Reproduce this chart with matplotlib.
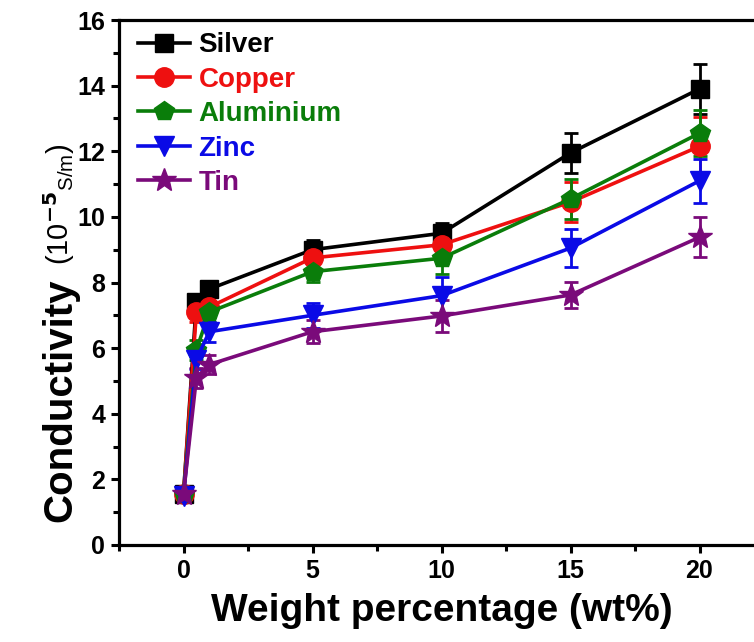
import numpy as np
import matplotlib
matplotlib.use('Agg')
import matplotlib.pyplot as plt
from matplotlib.ticker import MultipleLocator
from matplotlib.transforms import ScaledTranslation

plt.rcParams['font.family'] = ['Liberation Sans', 'DejaVu Sans']
plt.rcParams['font.weight'] = 'bold'

# data
wt = [0, 0.5, 1, 5, 10, 15, 20]
silver = [1.55, 7.4, 7.8, 9.0, 9.5, 11.95, 13.9]
silver_err = [0.1, 0.25, 0.25, 0.3, 0.3, 0.6, 0.75]
copper = [1.55, 7.1, 7.25, 8.75, 9.15, 10.45, 12.15]
copper_err = [0.1, 0.3, 0.3, 0.3, 0.35, 0.6, 0.9]
aluminium = [1.55, 5.95, 7.1, 8.33, 8.74, 10.55, 12.55]
aluminium_err = [0.1, 0.3, 0.3, 0.3, 0.48, 0.6, 0.7]
zinc = [1.5, 5.65, 6.5, 7.0, 7.6, 9.05, 11.1]
zinc_err = [0.1, 0.3, 0.3, 0.38, 0.57, 0.58, 0.67]
tin = [1.55, 5.1, 5.5, 6.5, 6.98, 7.62, 9.38]
tin_err = [0.1, 0.3, 0.3, 0.35, 0.5, 0.4, 0.61]

series = [
    ('Silver', silver, silver_err, 'black', 's', 13),
    ('Copper', copper, copper_err, '#ee1010', 'o', 14),
    ('Aluminium', aluminium, aluminium_err, '#0a7d0a', 'p', 15),
    ('Zinc', zinc, zinc_err, '#0a0ae6', 'v', 15),
    ('Tin', tin, tin_err, '#7a0a7a', '*', 18),
]

fig = plt.figure(figsize=(7.54, 6.42), dpi=100)
ax = fig.add_axes([119/754, 97/642, 645/754, 525/642])

handles = []
for name, vals, err, col, mk, ms in series:
    eb = ax.errorbar(wt, vals, yerr=err, color=col, marker=mk, markersize=ms,
                     linewidth=2.6, elinewidth=2, capsize=5, capthick=2,
                     label=name)
    handles.append(eb[0])
    if name == 'Copper':
        # glossy highlight on the copper spheres
        off = ax.transData + ScaledTranslation(-2.5/72, 2.5/72, fig.dpi_scale_trans)
        ax.plot(wt, vals, linestyle='none', marker='o', markersize=5,
                color='#ffb4b4', transform=off)

ax.set_xlim(-2.5, 22.5)
ax.set_ylim(0, 16)
ax.xaxis.set_major_locator(MultipleLocator(5))
ax.xaxis.set_minor_locator(MultipleLocator(2.5))
ax.yaxis.set_major_locator(MultipleLocator(2))
ax.yaxis.set_minor_locator(MultipleLocator(1))

for s in ['left', 'bottom', 'top']:
    ax.spines[s].set_linewidth(2.3)
ax.spines['right'].set_visible(False)
ax.tick_params(which='major', direction='out', length=6, width=2.2,
               labelsize=18, pad=4)
ax.tick_params(which='minor', direction='out', length=4, width=2.2)
for lab in ax.get_xticklabels() + ax.get_yticklabels():
    lab.set_fontweight('bold')

ax.set_xlabel('Weight percentage (wt%)', fontsize=28, fontweight='bold',
              labelpad=7)

fig.text(60/754, 1 - 400/642, 'Conductivity', rotation=90, fontsize=29,
         fontweight='bold', ha='center', va='center')
fig.text(59/754, 1 - 204/642, r'(10$^{\mathbf{-5}}$$_{\mathregular{S/m}}$)',
         rotation=90, fontsize=21, fontweight='normal', ha='center', va='center')

ax.legend(handles, [s[0] for s in series], loc='upper left',
          bbox_to_anchor=(6/645, 1.0), frameon=False,
          handlelength=1.9, handletextpad=0.3,
          labelspacing=0.3, borderaxespad=0.05, labelcolor='linecolor',
          prop={'weight': 'bold', 'size': 20})

fig.savefig('out.png', dpi=100)
